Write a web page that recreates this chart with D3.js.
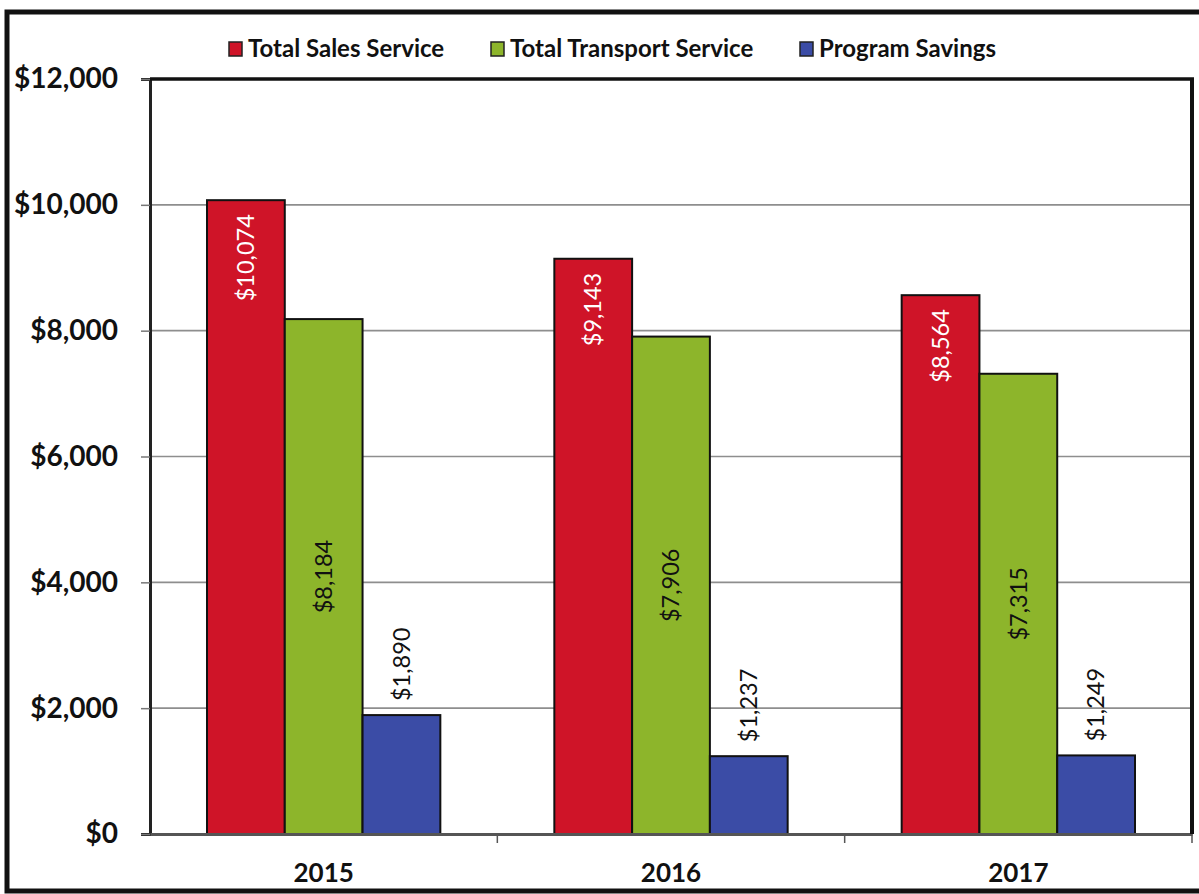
<!DOCTYPE html>
<html>
<head>
<meta charset="utf-8">
<script src="https://cdn.jsdelivr.net/npm/d3@7"></script>
<style>
  body { margin: 0; background: #fff; }
  svg { display: block; font-family: Lato, "Open Sans", sans-serif; }
</style>
</head>
<body>
<svg id="chart" width="1199" height="894"></svg>
<script>
// chart data
var years = ["2015", "2016", "2017"];
var seriesNames = ["Total Sales Service", "Total Transport Service", "Program Savings"];
var salesService = [10074, 9143, 8564];
var transportService = [8184, 7906, 7315];
var programSavings = [1890, 1237, 1249];
var yTicks = [0, 2000, 4000, 6000, 8000, 10000, 12000];

var colors = ["#cf1428", "#8db52b", "#3b4ca6"];
var values = [salesService, transportService, programSavings];

var svg = d3.select("#chart"),
    margin = { top: 79, right: 7, bottom: 60, left: 150 },
    width = 1199,
    height = 894;

// outer frame (right edge cut off like the scan)
svg.append("rect")
    .attr("x", 7).attr("y", 12)
    .attr("width", 1200).attr("height", 879)
    .attr("fill", "none").attr("stroke", "#111").attr("stroke-width", 5);

var x0 = d3.scaleBand()
    .domain(years)
    .range([margin.left, width - margin.right]);

// bars take ~232px of each ~347px category
var x1 = d3.scaleBand()
    .domain(seriesNames)
    .range([57, x0.bandwidth() - 57]);

var y = d3.scaleLinear()
    .domain([0, 12000])
    .range([height - margin.bottom, margin.top]);

var fmt = function (v) { return "$" + d3.format(",")(v); };

// gridlines
svg.append("g")
    .selectAll("line")
    .data(yTicks.filter(function (d) { return d > 0 && d < 12000; }))
    .enter().append("line")
      .attr("x1", margin.left).attr("x2", width - margin.right)
      .attr("y1", function (d) { return y(d); })
      .attr("y2", function (d) { return y(d); })
      .attr("stroke", "#8e8e8e").attr("stroke-width", 1.6);

// y axis
var yAxis = svg.append("g")
    .attr("transform", "translate(" + margin.left + ",0)")
    .call(d3.axisLeft(y).tickValues(yTicks).tickFormat(fmt).tickSize(9).tickPadding(23));
yAxis.select(".domain").attr("stroke", "#222").attr("stroke-width", 3);
yAxis.selectAll(".tick line").attr("stroke", "#777").attr("stroke-width", 1.5);
yAxis.selectAll("text")
    .attr("font-family", "Lato, sans-serif")
    .attr("font-size", 28).attr("font-weight", "bold").attr("fill", "#111");

// bars
var rows = function (d, i) {
  return seriesNames.map(function (s, j) { return { series: s, idx: j, value: values[j][i] }; });
};

var groups = svg.append("g")
    .selectAll("g")
    .data(years)
    .enter().append("g")
      .attr("transform", function (d) { return "translate(" + x0(d) + ",0)"; });

groups.selectAll("rect")
    .data(rows)
    .enter().append("rect")
      .attr("x", function (d) { return x1(d.series); })
      .attr("y", function (d) { return y(d.value); })
      .attr("width", x1.bandwidth())
      .attr("height", function (d) { return y(0) - y(d.value); })
      .attr("fill", function (d) { return colors[d.idx]; })
      .attr("stroke", "#111").attr("stroke-width", 2);

// value labels, rotated
groups.selectAll("text")
    .data(rows)
    .enter().append("text")
      .attr("transform", function (d) {
        var cx = x1(d.series) + x1.bandwidth() / 2, cy;
        if (d.idx === 0) cy = y(d.value) + 14;
        else if (d.idx === 1) cy = (y(d.value) + y(0)) / 2;
        else cy = y(d.value) - 14;
        return "translate(" + cx + "," + cy + ") rotate(-90)";
      })
      .attr("dy", "0.35em")
      .attr("text-anchor", function (d) { return d.idx === 0 ? "end" : d.idx === 1 ? "middle" : "start"; })
      .attr("font-size", 23.5)
      .attr("fill", function (d) { return d.idx === 0 ? "#fff" : "#111"; })
      .text(function (d) { return fmt(d.value); });

// x axis
var xAxis = svg.append("g")
    .attr("transform", "translate(0," + y(0) + ")")
    .call(d3.axisBottom(x0).tickSize(0).tickPadding(30));
xAxis.select(".domain").attr("stroke", "#555").attr("stroke-width", 3);
xAxis.selectAll("text")
    .attr("font-family", "Lato, sans-serif")
    .attr("font-size", 26).attr("font-weight", "bold").attr("fill", "#111");

// ticks between categories
svg.append("g")
    .selectAll("line")
    .data(years)
    .enter().append("line")
      .attr("x1", function (d) { return x0(d) + x0.bandwidth(); })
      .attr("x2", function (d) { return x0(d) + x0.bandwidth(); })
      .attr("y1", y(0)).attr("y2", y(0) + 9)
      .attr("stroke", "#555").attr("stroke-width", 1.5);

// plot border: top and right
svg.append("line")
    .attr("x1", margin.left).attr("x2", width - margin.right + 2)
    .attr("y1", y(12000)).attr("y2", y(12000))
    .attr("stroke", "#111").attr("stroke-width", 3.5);
svg.append("line")
    .attr("x1", width - margin.right).attr("x2", width - margin.right)
    .attr("y1", y(12000)).attr("y2", y(0))
    .attr("stroke", "#111").attr("stroke-width", 4);

// legend
var legendX = [229, 491, 800];
var legend = svg.append("g")
    .selectAll("g")
    .data(seriesNames)
    .enter().append("g")
      .attr("transform", function (d, i) { return "translate(" + legendX[i] + ",42)"; });
legend.append("rect")
    .attr("width", 13).attr("height", 14)
    .attr("fill", function (d, i) { return colors[i]; })
    .attr("stroke", "#222").attr("stroke-width", 1.5);
legend.append("text")
    .attr("x", 19).attr("y", 15)
    .attr("font-size", 24).attr("font-weight", "bold").attr("fill", "#111")
    .text(function (d) { return d; });
</script>
</body>
</html>
